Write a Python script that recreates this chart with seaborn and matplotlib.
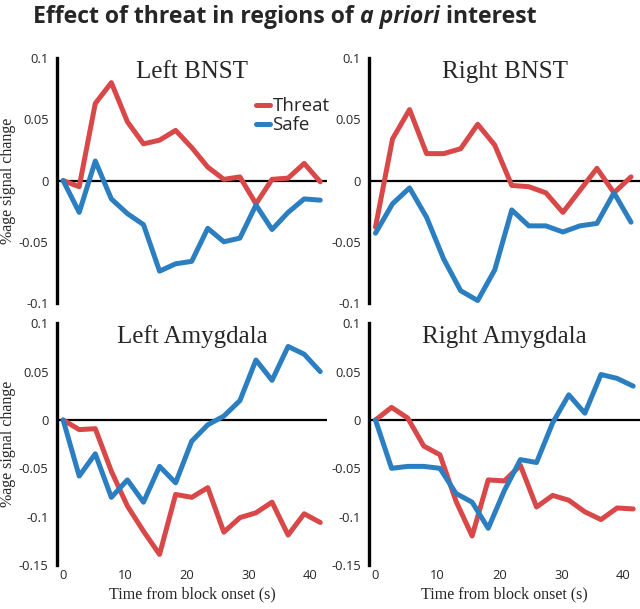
import matplotlib
matplotlib.use("Agg")
from matplotlib import pyplot as plt
import seaborn as sns
import pandas as pd

# time axis (s)
time_17 = [0, 2.6, 5.2, 7.8, 10.4, 13.0, 15.6, 18.2, 20.8, 23.4, 26.0, 28.6, 31.2, 33.8, 36.4, 39.0, 41.6]
time_16 = [0, 2.75, 5.5, 8.25, 11.0, 13.75, 16.5, 19.25, 22.0, 24.75, 27.5, 30.25, 33.0, 35.75, 38.5, 41.25]

# %age signal change per region
left_bnst_threat = [0, -0.005, 0.063, 0.080, 0.048, 0.030, 0.033, 0.041, 0.027, 0.011, 0.001, 0.003, -0.019, 0.001, 0.002, 0.014, -0.001]
left_bnst_safe = [0, -0.026, 0.016, -0.015, -0.027, -0.036, -0.074, -0.068, -0.066, -0.039, -0.050, -0.047, -0.020, -0.040, -0.026, -0.015, -0.016]

right_bnst_threat = [-0.038, 0.034, 0.058, 0.022, 0.022, 0.026, 0.046, 0.029, -0.004, -0.005, -0.010, -0.026, -0.008, 0.010, -0.010, 0.003]
right_bnst_safe = [-0.043, -0.019, -0.006, -0.030, -0.064, -0.090, -0.098, -0.073, -0.024, -0.037, -0.037, -0.042, -0.037, -0.035, -0.010, -0.034]

left_amy_threat = [0, -0.010, -0.009, -0.053, -0.089, -0.115, -0.139, -0.077, -0.080, -0.070, -0.116, -0.101, -0.096, -0.085, -0.119, -0.097, -0.106]
left_amy_safe = [0, -0.058, -0.035, -0.080, -0.062, -0.085, -0.048, -0.065, -0.022, -0.005, 0.004, 0.020, 0.062, 0.041, 0.076, 0.068, 0.050]

right_amy_threat = [0, 0.013, 0.002, -0.027, -0.036, -0.084, -0.120, -0.062, -0.063, -0.047, -0.090, -0.078, -0.083, -0.095, -0.103, -0.091, -0.092]
right_amy_safe = [0, -0.050, -0.048, -0.048, -0.050, -0.076, -0.085, -0.112, -0.073, -0.041, -0.044, -0.003, 0.026, 0.007, 0.047, 0.043, 0.035]

regions = ["Left BNST", "Right BNST", "Left Amygdala", "Right Amygdala"]
times = [time_17, time_16, time_17, time_17]
threat = [left_bnst_threat, right_bnst_threat, left_amy_threat, right_amy_threat]
safe = [left_bnst_safe, right_bnst_safe, left_amy_safe, right_amy_safe]

sns.set_style("white")
plt.rcParams['font.family'] = ['Open Sans', 'DejaVu Sans']
SERIF = ['Liberation Serif', 'DejaVu Serif']

palette = {'Threat': '#d94848', 'Safe': '#2b7fc1'}

fig = plt.figure(figsize=(6.4, 6.09), dpi=100)

# [left, bottom, width, height] in figure fraction
boxes = [
    [0.089, 0.5025, 0.422, 0.402],
    [0.577, 0.5025, 0.423, 0.402],
    [0.089, 0.0722, 0.422, 0.397],
    [0.577, 0.0722, 0.423, 0.397],
]

for i, region in enumerate(regions):
    ax = fig.add_axes(boxes[i])
    df = pd.DataFrame({
        'time': times[i] * 2,
        'signal': threat[i] + safe[i],
        'condition': ['Threat'] * len(threat[i]) + ['Safe'] * len(safe[i]),
    })
    ax.axhline(0, color='black', lw=1.6, zorder=1)
    sns.lineplot(data=df, x='time', y='signal', hue='condition', palette=palette,
                 lw=3.6, ax=ax, legend=(i == 0), zorder=3)
    ax.set_xlim(-1.0, 42.7)
    for s in ['top', 'right', 'bottom']:
        ax.spines[s].set_visible(False)
    ax.spines['left'].set_linewidth(2.4)
    ax.spines['left'].set_color('black')
    ax.tick_params(axis='both', length=0, labelsize=9.3, pad=6)
    if i < 2:
        ax.set_ylim(-0.1, 0.1)
        ax.set_yticks([-0.1, -0.05, 0, 0.05, 0.1])
        ax.set_yticklabels(['-0.1', '-0.05', '0', '0.05', '0.1'])
        ax.set_xticks([])
        ax.set_xlabel('')
    else:
        ax.set_ylim(-0.15, 0.1)
        ax.set_yticks([-0.15, -0.1, -0.05, 0, 0.05, 0.1])
        ax.set_yticklabels(['-0.15', '-0.1', '-0.05', '0', '0.05', '0.1'])
        ax.set_xticks([0, 10, 20, 30, 40])
        ax.tick_params(axis='x', pad=3)
        ax.set_xlabel('Time from block onset (s)', family=SERIF, fontsize=11.5, labelpad=3)
    if i % 2 == 0:
        ax.set_ylabel('%age signal change', family=SERIF, fontsize=11.5, labelpad=2)
    else:
        ax.set_ylabel('')
    ax.text(0.5, 0.92, region, transform=ax.transAxes, ha='center', va='baseline',
            family=SERIF, fontsize=18)
    if i == 0:
        leg = ax.legend(loc='upper left', bbox_to_anchor=(0.71, 0.87), frameon=False,
                        fontsize=13.5, handlelength=0.75, handletextpad=0.12,
                        labelspacing=0.05, borderaxespad=0)
        for h in leg.get_lines():
            h.set_linewidth(3.6)

# title with italic part
t1 = fig.text(0.052, 0.962, 'Effect of threat in regions of ', fontsize=16.6,
              fontweight='bold', va='baseline', ha='left')
t2 = fig.text(0, 0, 'a priori', fontsize=16.6, fontweight='bold', style='italic')
t3 = fig.text(0, 0, ' interest', fontsize=16.6, fontweight='bold')
fig.canvas.draw()
r = fig.canvas.get_renderer()
bb1 = t1.get_window_extent(r)
t2.set_position((bb1.x1 / fig.bbox.width, 0.962))
t2.set_va('baseline')
fig.canvas.draw()
bb2 = t2.get_window_extent(r)
t3.set_position((bb2.x1 / fig.bbox.width, 0.962))
t3.set_va('baseline')

fig.savefig('out.png', dpi=100)
